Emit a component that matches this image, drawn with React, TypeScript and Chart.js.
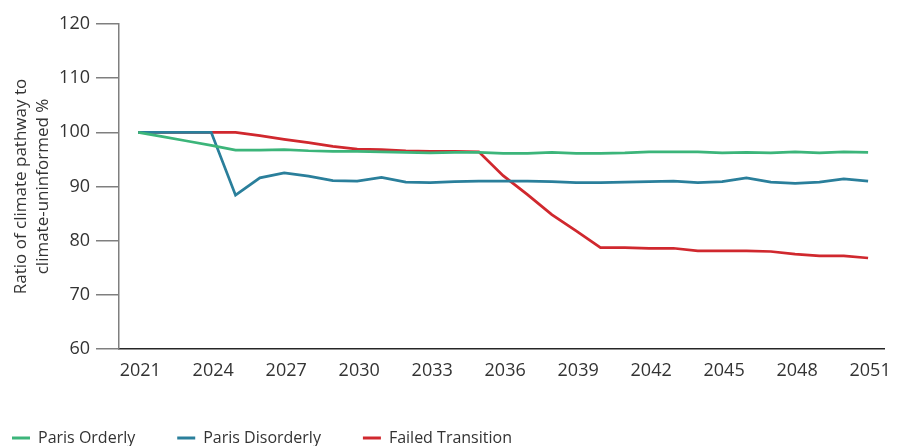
import React, { useEffect, useRef } from "react";
import { Chart, registerables } from "chart.js";

Chart.register(...registerables);

const years: number[] = [
  2021, 2022, 2023, 2024, 2025, 2026, 2027, 2028, 2029, 2030, 2031,
  2032, 2033, 2034, 2035, 2036, 2037, 2038, 2039, 2040, 2041, 2042,
  2043, 2044, 2045, 2046, 2047, 2048, 2049, 2050, 2051,
];

const tickYears: number[] = [2021, 2024, 2027, 2030, 2033, 2036, 2039, 2042, 2045, 2048, 2051];
const yTicks: number[] = [60, 70, 80, 90, 100, 110, 120];

const parisOrderly: number[] = [
  100, 99.2, 98.4, 97.6, 96.7, 96.7, 96.8, 96.6, 96.5, 96.5, 96.4,
  96.3, 96.2, 96.3, 96.3, 96.1, 96.1, 96.3, 96.1, 96.1, 96.2, 96.4,
  96.4, 96.4, 96.2, 96.3, 96.2, 96.4, 96.2, 96.4, 96.3,
];

const parisDisorderly: number[] = [
  100, 100, 100, 100, 88.4, 91.6, 92.5, 91.9, 91.1, 91.0, 91.7,
  90.8, 90.7, 90.9, 91.0, 91.0, 91.0, 90.9, 90.7, 90.7, 90.8, 90.9,
  91.0, 90.7, 90.9, 91.6, 90.8, 90.6, 90.8, 91.4, 91.0,
];

const failedTransition: number[] = [
  100, 100, 100, 100, 100, 99.4, 98.7, 98.1, 97.4, 96.9, 96.8,
  96.6, 96.5, 96.5, 96.4, 92.0, 88.5, 84.8, 81.8, 78.7, 78.7, 78.6,
  78.6, 78.1, 78.1, 78.1, 78.0, 77.5, 77.2, 77.2, 76.8,
];

const seriesNames: string[] = ["Paris Orderly", "Paris Disorderly", "Failed Transition"];
const seriesColors: string[] = ["#3cb57a", "#2a7f9b", "#d0282e"];
const yTitle: string[] = ["Ratio of climate pathway to", "climate-uninformed %"];

const FONT = "'Open Sans', 'Noto Sans', sans-serif";
const TEXT = "#333333";

export default function App() {
  const ref = useRef<HTMLCanvasElement | null>(null);

  useEffect(() => {
    if (!ref.current) return;
    const allSeries = [parisOrderly, parisDisorderly, failedTransition];
    const chart = new Chart(ref.current, {
      type: "line",
      data: {
        datasets: allSeries.map((vals, i) => ({
          label: seriesNames[i],
          data: years.map((yr, j) => ({ x: yr, y: vals[j] })),
          borderColor: seriesColors[i],
          backgroundColor: seriesColors[i],
          borderWidth: 2.75,
          pointRadius: 0,
          pointHoverRadius: 0,
          tension: 0,
          fill: false,
        })),
      },
      options: {
        animation: false,
        responsive: false,
        maintainAspectRatio: false,
        layout: { padding: { left: -30, top: 24, right: 15, bottom: -10 } },
        plugins: {
          tooltip: { enabled: false },
          legend: {
            position: "bottom",
            align: "start",
            labels: {
              boxWidth: 18,
              boxHeight: 3,
              padding: 42,
              color: TEXT,
              font: { family: FONT, size: 16 },
              generateLabels: (c: any) =>
                Chart.defaults.plugins.legend.labels
                  .generateLabels(c)
                  .map((it: any) => ({ ...it, lineWidth: 0 })),
            },
          },
        },
        scales: {
          x: {
            type: "linear",
            min: 2020.21,
            max: 2051.67,
            afterBuildTicks: (s: any) => {
              s.ticks = tickYears.map((v) => ({ value: v }));
            },
            afterFit: (s: any) => {
              s.height = 39;
            },
            grid: { display: false, drawTicks: false },
            border: { display: true, color: "#262626", width: 1.5 },
            ticks: {
              color: TEXT,
              font: { family: FONT, size: 18 },
              padding: 11,
              labelOffset: 2,
              maxRotation: 0,
              autoSkip: false,
              callback: (v: any) => String(v),
            },
          },
          y: {
            type: "linear",
            min: 60,
            max: 120,
            afterBuildTicks: (s: any) => {
              s.ticks = yTicks.map((v) => ({ value: v }));
            },
            afterFit: (s: any) => {
              s.width = 149;
            },
            grid: {
              drawOnChartArea: false,
              drawTicks: true,
              tickLength: 23,
              color: "#7f7f7f",
              lineWidth: 1.5,
            },
            border: { display: true, color: "#7f7f7f", width: 1.5 },
            ticks: {
              color: TEXT,
              font: { family: FONT, size: 18 },
              padding: 6,
            },
            title: {
              display: true,
              text: yTitle,
              color: TEXT,
              font: { family: FONT, size: 17, lineHeight: 1.25 },
              padding: { top: 41, bottom: 5 },
            },
          },
        },
      },
    });
    return () => chart.destroy();
  }, []);

  return (
    <div style={{ position: "fixed", left: 0, top: 0, width: 900, height: 446, background: "#fff" }}>
      <canvas ref={ref} width={900} height={446} style={{ width: 900, height: 446, display: "block" }} />
    </div>
  );
}
